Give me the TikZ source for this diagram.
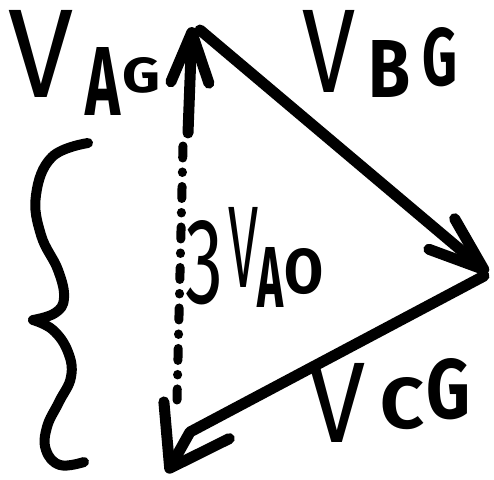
\documentclass[tikz,border=0pt]{standalone}
\usepackage{fontspec}
\setmainfont{Fira Sans}
\usetikzlibrary{arrows.meta}
\newcommand{\handlabel}[6]{\node[hand] (#1) at (#2,#3) {\resizebox{#4pt}{#5pt}{#6}};}
\begin{document}
\begin{tikzpicture}[x=1pt,y=-1pt,
  stroke/.style={line width=11pt, line cap=round, line join=round},
  bracestroke/.style={line width=10pt, line cap=round, line join=round},
  dashstroke/.style={line width=9pt, line cap=round, dash pattern=on 12pt off 14pt on 0.5pt off 14pt},
  hand/.style={anchor=north west, inner sep=0pt, outer sep=0pt, font=\bfseries},
]
\useasboundingbox (0,0) rectangle (494,479);
\coordinate (Abase) at (188,133);
\coordinate (Atip) at (192,27);
\coordinate (Btail) at (200,30);
\coordinate (Rtip) at (488,273);
\coordinate (Ctail) at (484,276);
\coordinate (Cbend) at (190,432);
\coordinate (Ltip) at (167,473);
\coordinate (Dtop) at (183,146);
\coordinate (Dbot) at (177,400);

\draw[stroke, -{Straight Barb[length=50pt,width=38pt,round]}] (Abase) -- (Atip);
\draw[stroke, -{Straight Barb[length=55pt,width=40pt,round]}] (Btail) -- (Rtip);
\draw[stroke, -{Straight Barb[length=55pt,width=75pt,round]}] (Ctail) -- (Cbend) -- (Ltip);
\draw[dashstroke] (Dtop) -- (Dbot);

\draw[bracestroke] plot[smooth, tension=0.7] coordinates {(88,143) (52,157) (36,195) (41,235) (58,270) (64,298) (55,313) (33,320)};
\draw[bracestroke] plot[smooth, tension=0.7] coordinates {(33,320) (53,330) (68,352) (71,377) (59,402) (47,427) (46,450) (60,465) (84,462)};

\handlabel{vag}{8}{10}{65}{87}{\mdseries V}
\handlabel{aga}{85}{47}{35}{68}{A}
\handlabel{agg}{122}{57}{38}{35}{G}

\handlabel{vbg}{302}{10}{53}{82}{\mdseries V}
\handlabel{bgb}{368}{40}{42}{57}{B}
\handlabel{bgg}{422}{27}{35}{58}{G}

\handlabel{three}{185}{220}{38}{83}{\mdseries 3}
\handlabel{vao}{228}{207}{30}{80}{\mdseries V}
\handlabel{aoa}{257}{247}{26}{60}{A}
\handlabel{aoo}{284}{248}{39}{45}{O}

\handlabel{vcg}{308}{363}{57}{79}{\mdseries V}
\handlabel{cgc}{380}{377}{44}{51}{C}
\handlabel{cgg}{426}{358}{44}{60}{G}
\end{tikzpicture}
\end{document}
